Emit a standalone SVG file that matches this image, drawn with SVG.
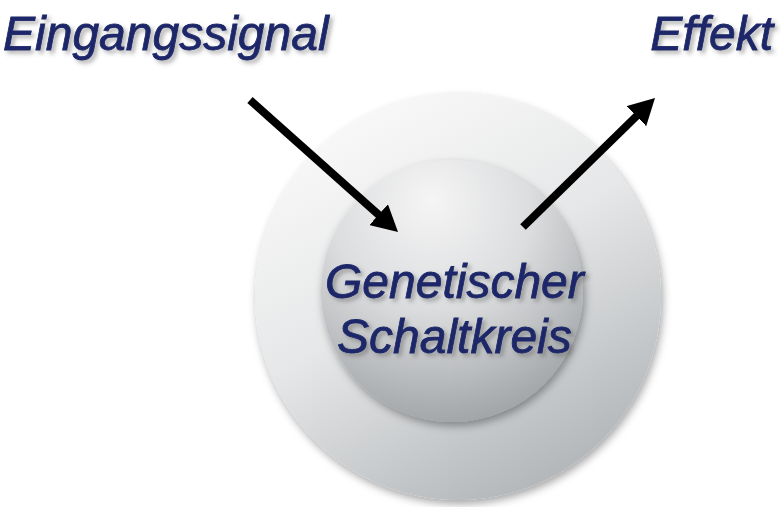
<svg xmlns="http://www.w3.org/2000/svg" width="781" height="507" viewBox="0 0 781 507">
  <style>
    .label { font-family: "Liberation Sans", Arial, sans-serif; font-style: italic; font-size: 48px; fill: #1b2868; stroke: #1b2868; stroke-width: 0.8; filter: url(#textShadow); }
    .arrow { fill: none; stroke: #000; stroke-width: 8; stroke-linecap: butt; marker-end: url(#head); }
  </style>
  <defs>
    <linearGradient id="outerFill" x1="0.25" y1="0.05" x2="0.75" y2="0.95">
      <stop offset="0" stop-color="#f8f8f8"/>
      <stop offset="0.45" stop-color="#e6e7e8"/>
      <stop offset="1" stop-color="#b2b6b9"/>
    </linearGradient>
    <radialGradient id="innerFill" cx="0.42" cy="0.22" r="0.85" fx="0.42" fy="0.15">
      <stop offset="0" stop-color="#f5f5f5"/>
      <stop offset="0.45" stop-color="#dcdddf"/>
      <stop offset="1" stop-color="#9a9ea1"/>
    </radialGradient>
    <filter id="discShadow" x="-20%" y="-20%" width="140%" height="140%">
      <feDropShadow dx="2" dy="4" stdDeviation="4" flood-color="#000" flood-opacity="0.35"/>
    </filter>
    <filter id="textShadow" x="-10%" y="-30%" width="120%" height="160%">
      <feDropShadow dx="3" dy="3" stdDeviation="2" flood-color="#555" flood-opacity="0.45"/>
    </filter>
    <marker id="head" markerUnits="userSpaceOnUse" markerWidth="26" markerHeight="28" refX="6" refY="14" orient="auto">
      <path d="M0,0 L26,14 L0,28 z" fill="#000"/>
    </marker>
  </defs>

  <rect width="781" height="507" fill="#fff"/>

  <!-- circuit: outer cell disc with inner core disc -->
  <g id="cell">
    <circle cx="458" cy="297" r="203" fill="url(#outerFill)" filter="url(#discShadow)"/>
  </g>
  <g id="circuit">
    <circle cx="452" cy="291" r="131" fill="url(#innerFill)" filter="url(#discShadow)"/>
    <text class="label" x="325" y="298">Genetischer</text>
    <text class="label" x="337" y="353">Schaltkreis</text>
  </g>

  <g id="input">
    <text class="label" x="3" y="50">Eingangssignal</text>
  </g>
  <g id="output">
    <text class="label" x="773" y="50" text-anchor="end">Effekt</text>
  </g>

  <g id="connectors">
    <line class="arrow" x1="250" y1="100" x2="383.1" y2="218.7"/>
    <line class="arrow" x1="523" y1="227" x2="640.7" y2="112"/>
  </g>
</svg>
